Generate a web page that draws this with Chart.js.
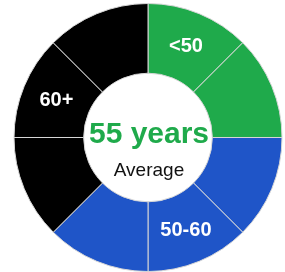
<!DOCTYPE html>
<html>
<head>
<meta charset="utf-8">
<script src="https://cdn.jsdelivr.net/npm/chart.js@4/dist/chart.umd.min.js"></script>
<style>
  body { margin: 0; background: #fff; }
  canvas { display: block; }
</style>
</head>
<body>
<canvas id="myChart" width="285" height="272"></canvas>
<script>
// age groups, each one takes a number of equal eighths of the ring
const groups = ['<50', '50-60', '60+']
const groupEighths = [2, 3, 3]
const groupColors = ['#1faa4b', '#1f55c8', '#000000']
const labelSlot = [0, 1, 1]   // which eighth inside the group carries its label
const averageAge = 55

let segValues = []
let segColors = []
let segLabels = []
groups.forEach((g, i) => {
    for (let k = 0; k < groupEighths[i]; k++) {
        segValues.push(1)
        segColors.push(groupColors[i])
        segLabels.push(k === labelSlot[i] ? g : '')
    }
})

const labelPlugin = {
    id: 'ringLabels',
    afterDraw: (chart) => {
        const ctx = chart.ctx
        const arcs = chart.getDatasetMeta(0).data
        ctx.save()
        ctx.textAlign = 'center'
        ctx.textBaseline = 'middle'
        ctx.fillStyle = '#ffffff'
        ctx.font = 'bold 20px "Liberation Sans", Arial, sans-serif'
        arcs.forEach((arc, i) => {
            if (!segLabels[i]) return
            const p = arc.tooltipPosition()
            ctx.fillText(segLabels[i], p.x, p.y + 1)
        })
        // text in the hole
        const cx = arcs[0].x
        const cy = arcs[0].y
        ctx.textBaseline = 'alphabetic'
        ctx.fillStyle = '#1faa4b'
        ctx.font = 'bold 30px "Liberation Sans", Arial, sans-serif'
        ctx.fillText(averageAge + ' years', cx + 1, cy + 5)
        ctx.fillStyle = '#111111'
        ctx.font = '19px "Liberation Sans", Arial, sans-serif'
        ctx.fillText('Average', cx + 1, cy + 38)
        ctx.restore()
    }
}

let chart = new Chart('myChart', {
    type: 'doughnut',
    data: {
        labels: segLabels,
        datasets: [{
            data: segValues,
            backgroundColor: segColors,
            borderColor: '#d6d6d6',
            borderWidth: 1,
        }]
    },
    options: {
        responsive: false,
        animation: false,
        cutout: '48%',
        layout: {
            padding: { left: 13, right: 2, top: 3, bottom: 0 }
        },
        plugins: {
            legend: { display: false },
            tooltip: { enabled: false }
        }
    },
    plugins: [labelPlugin]
})
</script>
</body>
</html>
